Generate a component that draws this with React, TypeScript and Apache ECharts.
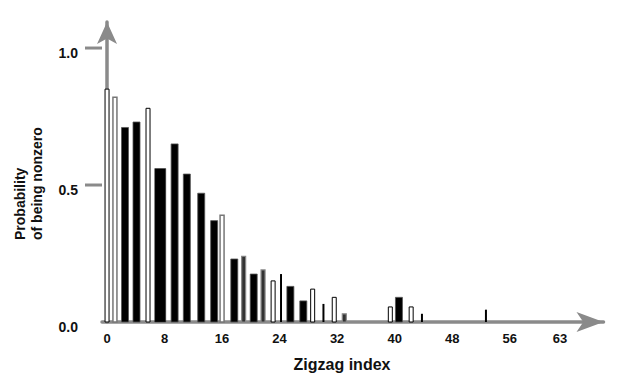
import React, { useEffect, useRef } from 'react';
import * as echarts from 'echarts';

// Zigzag index position of each bar
const zigzagIndex = [0, 1.1, 2.5, 4.1, 5.7, 7.4, 9.4, 11.1, 13.1, 14.9, 16, 17.7, 19, 20.4, 21.7, 23.1, 24.2, 25.5, 27.3, 28.6, 30.1, 31.6, 33, 39.4, 40.6, 42.3, 43.8, 52.7];
// Probability of being nonzero
const probability = [0.85, 0.82, 0.71, 0.73, 0.78, 0.56, 0.65, 0.54, 0.47, 0.37, 0.39, 0.23, 0.24, 0.175, 0.19, 0.15, 0.175, 0.13, 0.077, 0.12, 0.066, 0.09, 0.03, 0.055, 0.09, 0.055, 0.03, 0.045];
// Bar group: w = white, o = white (grey outline), b = black, B = black wide, g = grey, t = thin black
const barKind = ['w', 'o', 'b', 'b', 'w', 'B', 'b', 'b', 'b', 'b', 'o', 'b', 'g', 'b', 'g', 'w', 't', 'b', 'b', 'w', 't', 'w', 'g', 'w', 'b', 'w', 't', 't'];
const xTickLabels = [0, 8, 16, 24, 32, 40, 48, 56, 63];
const yTickLabels = [0, 0.5, 1.0];
const yTickMarks = [0.5, 1.0];

const X_MIN = -0.7;
const X_MAX = 69.05;
const FONT = "'Liberation Sans', Arial, sans-serif";
const AXIS_GREY = '#8a8a8a';

const kindStyle: Record<string, { w: number; fill: string; stroke: string; lw: number }> = {
  w: { w: 4, fill: '#ffffff', stroke: '#000000', lw: 1 },
  o: { w: 4, fill: '#ffffff', stroke: '#777777', lw: 1.5 },
  b: { w: 7, fill: '#000000', stroke: '#555555', lw: 0.8 },
  B: { w: 11, fill: '#000000', stroke: '#333333', lw: 0.5 },
  g: { w: 4, fill: '#333333', stroke: '#888888', lw: 1.2 },
  t: { w: 2, fill: '#000000', stroke: '#000000', lw: 0 },
};

export default function App() {
  const ref = useRef<HTMLDivElement>(null);
  useEffect(() => {
    if (!ref.current) return;
    const chart = echarts.init(ref.current, null, { renderer: 'svg' });
    const data = zigzagIndex.map((x, i) => [x, probability[i], i]);
    chart.setOption({
      animation: false,
      backgroundColor: '#ffffff',
      grid: { left: 102, right: 14.5, top: 22, bottom: 54, containLabel: false },
      xAxis: {
        type: 'value',
        min: X_MIN,
        max: X_MAX,
        axisLine: {
          show: true,
          symbol: ['none', 'arrow'],
          symbolSize: [15, 27],
          lineStyle: { color: AXIS_GREY, width: 3.5 },
        },
        axisTick: { show: false },
        splitLine: { show: false },
        axisLabel: {
          customValues: xTickLabels,
          margin: 10,
          color: '#111',
          fontFamily: FONT,
          fontWeight: 'bold',
          fontSize: 13,
        },
      },
      yAxis: {
        type: 'value',
        min: 0,
        max: 1.095,
        axisLine: {
          show: true,
          symbol: ['none', 'arrow'],
          symbolSize: [15, 22],
          lineStyle: { color: AXIS_GREY, width: 3.5 },
        },
        axisTick: { show: false },
        splitLine: { show: false },
        axisLabel: {
          customValues: yTickLabels,
          formatter: (v: number) => v.toFixed(1),
          margin: 24,
          verticalAlign: 'top',
          lineHeight: 10,
          color: '#111',
          fontFamily: FONT,
          fontWeight: 'bold',
          fontSize: 14,
        },
      },
      graphic: [
        {
          type: 'text',
          x: 342,
          y: 364,
          style: {
            text: 'Zigzag index',
            fill: '#111',
            font: `bold 16px ${FONT}`,
            textAlign: 'center',
            textVerticalAlign: 'middle',
          },
        },
        {
          type: 'text',
          x: 28.5,
          y: 240,
          rotation: Math.PI / 2,
          style: {
            text: 'Probability\nof being nonzero',
            fill: '#111',
            font: `bold 14px ${FONT}`,
            lineHeight: 17,
            textAlign: 'left',
            textVerticalAlign: 'middle',
          },
        },
      ],
      series: [
        {
          type: 'custom',
          name: 'y ticks',
          clip: false,
          silent: true,
          data: yTickMarks.map((v) => [X_MIN, v]),
          encode: { x: 0, y: 1 },
          z: 1,
          renderItem: (_params: any, api: any) => {
            const p = api.coord([api.value(0), api.value(1)]);
            return {
              type: 'line',
              shape: { x1: p[0] - 17, y1: p[1], x2: p[0], y2: p[1] },
              style: { stroke: AXIS_GREY, lineWidth: 3 },
            };
          },
        },
        {
          type: 'custom',
          name: 'Probability of being nonzero',
          data,
          encode: { x: 0, y: 1 },
          renderItem: (params: any, api: any) => {
            const k = barKind[params.dataIndex];
            const st = kindStyle[k];
            const top = api.coord([api.value(0), api.value(1)]);
            const base = api.coord([api.value(0), 0]);
            return {
              type: 'rect',
              shape: { x: top[0] - st.w / 2, y: top[1], width: st.w, height: base[1] - top[1] },
              style: { fill: st.fill, stroke: st.lw > 0 ? st.stroke : null, lineWidth: st.lw },
            };
          },
        },
      ],
    });
    return () => chart.dispose();
  }, []);
  return <div ref={ref} style={{ position: 'fixed', left: 0, top: 0, width: 618, height: 376 }} />;
}
